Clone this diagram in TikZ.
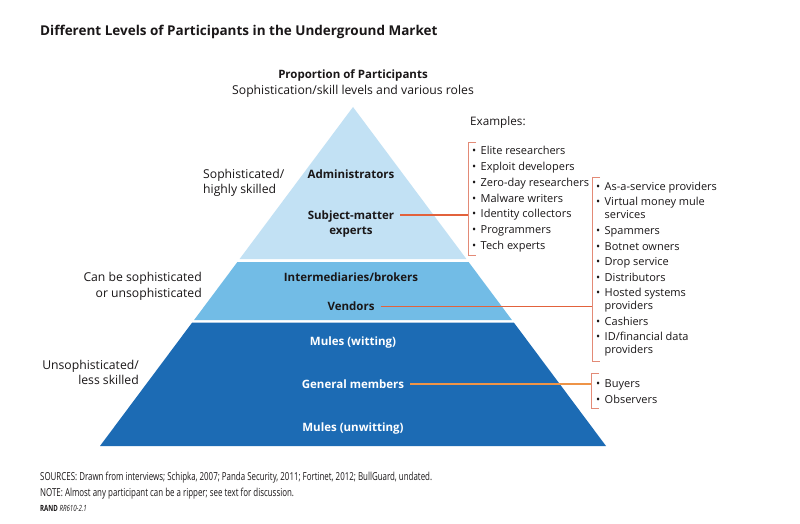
\documentclass[tikz,border=0pt]{standalone}
\usepackage{fontspec}
\setmainfont{Open Sans}
\newfontfamily\condfont[FakeStretch=0.72]{Open Sans}
\definecolor{topblue}{HTML}{C2E1F4}
\definecolor{midblue}{HTML}{72BCE6}
\definecolor{botblue}{HTML}{1C6BB4}
\definecolor{connred}{HTML}{E2623C}
\definecolor{connorange}{HTML}{EE9447}
\definecolor{brk}{HTML}{E38A76}
\definecolor{txt}{HTML}{1A1718}
\tikzset{
  lbl/.style={inner sep=0pt, text=txt, font=\fontsize{12.2}{14}\selectfont},
  blbl/.style={lbl, font=\fontsize{11.5}{13}\selectfont\bfseries},
  wlbl/.style={blbl, text=white},
  item/.style={lbl, anchor=base west, font=\fontsize{11}{13}\selectfont},
  conn/.style={line width=1.6pt, connred},
  bracket/.style={line width=0.8pt, brk},
}
\newcommand{\bul}{\makebox[8.5pt][l]{\textbullet}}
\begin{document}
\begin{tikzpicture}[x=1pt,y=-1pt]
\useasboundingbox (0,0) rectangle (800,524);
\fill[white] (0,0) rectangle (800,524);
% pyramid
\fill[topblue] (353,107) -- (466.4,259) -- (239.6,259) -- cycle;
\fill[midblue] (237.4,262) -- (468.6,262) -- (511.9,320) -- (194.1,320) -- cycle;
\fill[botblue] (192.2,322.5) -- (513.8,322.5) -- (606,446) -- (100,446) -- cycle;
% title
\node[lbl, anchor=base west, font=\fontsize{13.5}{15}\selectfont\bfseries] (title) at (40,35.5) {Different Levels of Participants in the Underground Market};
\node[blbl, anchor=base] (prop) at (353,79) {Proportion of Participants};
\node[lbl, anchor=base] (soph) at (353,95) {Sophistication/skill levels and various roles};
% left labels
\node[lbl, anchor=base west] (l1a) at (203,178) {Sophisticated/};
\node[lbl, anchor=base west] (l1b) at (203,193) {highly skilled};
\node[lbl, anchor=base east] (l2a) at (202,281) {Can be sophisticated};
\node[lbl, anchor=base east] (l2b) at (202,297) {or unsophisticated};
\node[lbl, anchor=base east] (l3a) at (139,369) {Unsophisticated/};
\node[lbl, anchor=base east] (l3b) at (139,384) {less skilled};
% pyramid labels
\node[blbl, anchor=base] (admin) at (351,178) {Administrators};
\node[blbl, anchor=base] (sme1) at (351,219) {Subject-matter};
\node[blbl, anchor=base] (sme2) at (351,234) {experts};
\node[blbl, anchor=base] (inter) at (351,281) {Intermediaries/brokers};
\node[blbl, anchor=base] (vend) at (351,310) {Vendors};
\node[wlbl, anchor=base] (mw) at (353,345) {Mules (witting)};
\node[wlbl, anchor=base] (gm) at (353,388) {General members};
\node[wlbl, anchor=base] (mu) at (353,431) {Mules (unwitting)};
% examples
\node[lbl, anchor=base west, font=\fontsize{11.7}{13}\selectfont] (ex) at (470,126) {Examples:};
% list 1
\coordinate (b1t) at (468,142);
\coordinate (b1b) at (468,255);
\coordinate (b1m) at (468,215);
\draw[bracket] ([xshift=8pt]b1t) -- (b1t) -- (b1b) -- ([xshift=8pt]b1b);
\node[item] (i11) at (472,154.5) {\bul Elite researchers};
\node[item] (i12) at (472,170) {\bul Exploit developers};
\node[item] (i13) at (472,186) {\bul Zero-day researchers};
\node[item] (i14) at (472,202) {\bul Malware writers};
\node[item] (i15) at (472,217) {\bul Identity collectors};
\node[item] (i16) at (472,233) {\bul Programmers};
\node[item] (i17) at (472,249) {\bul Tech experts};
% list 2
\coordinate (b2t) at (592,177);
\coordinate (b2b) at (592,361);
\coordinate (b2m) at (592,306.5);
\draw[bracket] ([xshift=8pt]b2t) -- (b2t) -- (b2b) -- ([xshift=8pt]b2b);
\node[item] (i21) at (596,190) {\bul As-a-service providers};
\node[item] (i22) at (596,205.5) {\bul Virtual money mule};
\node[item] (i22b) at (604.5,218) {services};
\node[item] (i23) at (596,234) {\bul Spammers};
\node[item] (i24) at (596,250) {\bul Botnet owners};
\node[item] (i25) at (596,265) {\bul Drop service};
\node[item] (i26) at (596,281) {\bul Distributors};
\node[item] (i27) at (596,296.5) {\bul Hosted systems};
\node[item] (i27b) at (604.5,309) {providers};
\node[item] (i28) at (596,325) {\bul Cashiers};
\node[item] (i29) at (596,340.5) {\bul ID/financial data};
\node[item] (i29b) at (604.5,353) {providers};
% list 3
\coordinate (b3t) at (591,373);
\coordinate (b3b) at (591,408);
\coordinate (b3m) at (591,384);
\draw[bracket] ([xshift=8pt]b3t) -- (b3t) -- (b3b) -- ([xshift=8pt]b3b);
\node[item] (i31) at (596,387.5) {\bul Buyers};
\node[item] (i32) at (596,403) {\bul Observers};
% connectors
\draw[conn] ([xshift=6pt]sme1.east |- b1m) -- (b1m);
\draw[conn] ([xshift=6pt]vend.east |- b2m) -- (b2m);
\draw[conn, connorange] ([xshift=6pt]gm.east |- b3m) -- (b3m);
% footer
\node[lbl, anchor=base west, font=\fontsize{11}{13}\condfont] (src) at (40,480) {SOURCES: Drawn from interviews; Schipka, 2007; Panda Security, 2011; Fortinet, 2012; BullGuard, undated.};
\node[lbl, anchor=base west, font=\fontsize{11}{13}\condfont] (note) at (40,496) {NOTE: Almost any participant can be a ripper; see text for discussion.};
\node[lbl, anchor=base west, font=\fontsize{8.5}{9}\condfont] (rand) at (40,511) {\textbf{RAND} \textit{RR610-2.1}};
\end{tikzpicture}
\end{document}
